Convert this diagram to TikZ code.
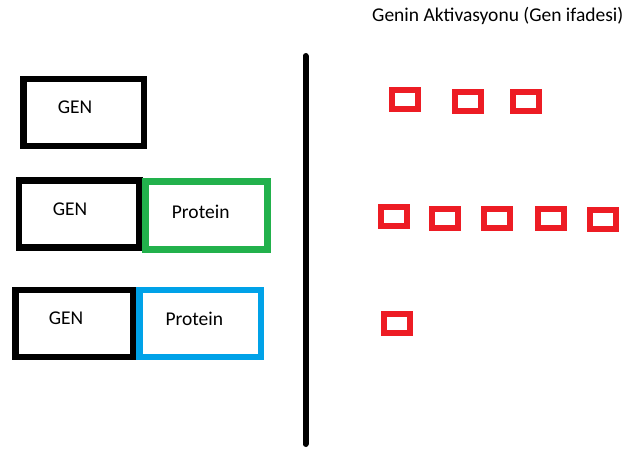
\documentclass[tikz,border=0pt]{standalone}
\usepackage{fontspec}
\setmainfont{Carlito}
\definecolor{pred}{HTML}{ED1C24}
\definecolor{pgreen}{HTML}{22B14C}
\definecolor{pblue}{HTML}{00A2E8}
\begin{document}
\begin{tikzpicture}[x=1pt,y=-1pt,
  bigbox/.style={draw=#1,line width=6.5pt,minimum width=120pt,minimum height=67pt,inner sep=0pt,outer sep=0pt},
  redbox/.style={draw=pred,line width=6pt,minimum width=26pt,minimum height=19pt,inner sep=0pt,outer sep=0pt},
  lbl/.style={font=\fontsize{19.5}{23}\selectfont,inner sep=0pt,text=black}]
\useasboundingbox (0,0) rectangle (625,451);
% left boxes
\node[bigbox=black,minimum width=120.3pt] (g1) at (83.85,112.5) {};
\node[bigbox=black,minimum width=120.5pt] (g2) at (79.25,214) {};
\node[bigbox=pgreen,minimum width=121.6pt,minimum height=68pt] (p2) at (206.5,215.3) {};
\node[bigbox=black,minimum width=117.7pt] (g3) at (74.15,323.5) {};
\node[bigbox=pblue,minimum width=121.5pt] (p3) at (200.25,323.5) {};
\node[lbl] (t1) at (75,107.7) {GEN};
\node[lbl] (t2) at (70,209) {GEN};
\node[lbl] (t3) at (200.7,211.7) {Protein};
\node[lbl] (t4) at (66,318.3) {GEN};
\node[lbl] (t5) at (194.3,319.3) {Protein};
% divider
\coordinate (d1) at (305.5,56);
\coordinate (d2) at (305.5,444);
\draw[line width=6pt,line cap=round] (d1) -- (d2);
% title
\node[lbl,anchor=west] (title) at (372,16) {Genin Aktivasyonu (Gen ifadesi)};
% red boxes
\node[redbox] (r11) at (405.2,99.8) {};
\node[redbox] (r12) at (467.5,101.2) {};
\node[redbox] (r13) at (525.7,101.2) {};
\node[redbox] (r21) at (394,216.8) {};
\node[redbox] (r22) at (444.7,218) {};
\node[redbox] (r23) at (496.7,218) {};
\node[redbox] (r24) at (551.2,218) {};
\node[redbox] (r25) at (603,219.4) {};
\node[redbox] (r31) at (396.5,323.4) {};
\end{tikzpicture}
\end{document}
